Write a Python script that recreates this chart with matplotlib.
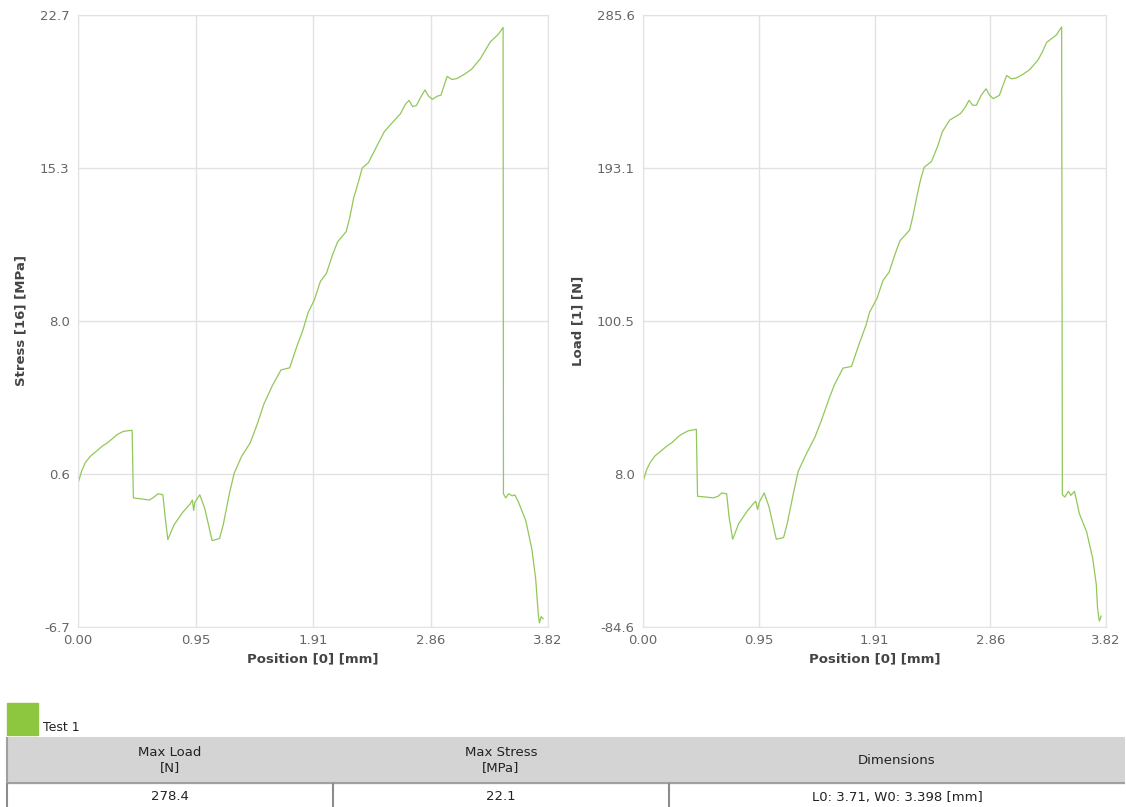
import matplotlib.pyplot as plt

# stress vs position
stress_pos = [0.00, 0.03, 0.06, 0.10, 0.15, 0.20, 0.24, 0.29, 0.32, 0.37, 0.44, 0.45,
              0.52, 0.58, 0.62, 0.65, 0.69, 0.71, 0.73, 0.78, 0.85, 0.91, 0.93, 0.94,
              0.95, 0.99, 1.03, 1.09, 1.15, 1.18, 1.23, 1.27, 1.33, 1.40, 1.46, 1.51,
              1.58, 1.65, 1.72, 1.78, 1.83, 1.87, 1.92, 1.97, 2.02, 2.07, 2.11, 2.18,
              2.21, 2.24, 2.28, 2.31, 2.36, 2.42, 2.49, 2.55, 2.62, 2.66, 2.69, 2.72,
              2.75, 2.79, 2.82, 2.85, 2.88, 2.92, 2.95, 3.00, 3.04, 3.08, 3.14, 3.20,
              3.27, 3.31, 3.35, 3.42, 3.455, 3.458, 3.476, 3.50, 3.53, 3.55, 3.58, 3.64,
              3.69, 3.72, 3.74, 3.75, 3.765, 3.78]
stress_val = [0.2, 0.8, 1.2, 1.5, 1.75, 2.0, 2.15, 2.4, 2.55, 2.7, 2.75, -0.5,
              -0.55, -0.6, -0.45, -0.3, -0.35, -1.5, -2.5, -1.8, -1.2, -0.8, -0.6, -1.1,
              -0.7, -0.35, -1.0, -2.55, -2.45, -1.8, -0.3, 0.7, 1.5, 2.15, 3.1, 4.0,
              4.9, 5.65, 5.75, 6.8, 7.6, 8.4, 9.0, 9.9, 10.3, 11.2, 11.8, 12.3,
              13.0, 13.9, 14.7, 15.35, 15.6, 16.3, 17.1, 17.5, 17.95, 18.4, 18.6, 18.3,
              18.35, 18.8, 19.1, 18.8, 18.65, 18.8, 18.85, 19.75, 19.6, 19.65, 19.85, 20.1,
              20.6, 21.0, 21.4, 21.8, 22.1, -0.3, -0.5, -0.3, -0.4, -0.35, -0.7, -1.6,
              -3.0, -4.4, -6.0, -6.5, -6.2, -6.3]

# load vs position
load_pos = [0.00, 0.03, 0.06, 0.10, 0.15, 0.20, 0.24, 0.29, 0.32, 0.37, 0.44, 0.45,
            0.52, 0.58, 0.62, 0.65, 0.69, 0.71, 0.74, 0.79, 0.86, 0.91, 0.93, 0.945,
            0.96, 1.00, 1.04, 1.10, 1.16, 1.19, 1.24, 1.28, 1.34, 1.42, 1.47, 1.54,
            1.58, 1.65, 1.72, 1.78, 1.84, 1.87, 1.93, 1.98, 2.03, 2.08, 2.12, 2.20,
            2.23, 2.26, 2.29, 2.32, 2.38, 2.43, 2.47, 2.53, 2.62, 2.66, 2.69, 2.72,
            2.75, 2.79, 2.83, 2.86, 2.89, 2.94, 3.00, 3.04, 3.08, 3.14, 3.19, 3.26,
            3.30, 3.33, 3.41, 3.454, 3.46, 3.48, 3.51, 3.53, 3.56, 3.60, 3.66, 3.71,
            3.74, 3.75, 3.765, 3.78]
load_val = [3.5, 10.5, 15, 19, 22, 25, 27, 30.5, 32, 34, 35, -5.5,
            -6.0, -6.5, -5.5, -3.5, -4.0, -18, -31.5, -22, -14.5, -10, -8.5, -13.5,
            -9, -3.5, -12, -31.5, -30.5, -22, -4, 9.5, 19, 30.5, 40, 54.5,
            62, 72, 73, 86, 98, 106, 114, 125, 130, 141, 149, 155.5,
            165, 176, 186, 193.5, 197, 206, 215, 222, 226, 230, 234, 231,
            231, 237, 241, 237, 235, 237, 249, 247, 247.5, 250, 252.5, 258.5,
            264, 269, 273.5, 278.4, -4.5, -6, -2.5, -5, -2.5, -16, -27, -43,
            -59, -73, -81, -78]

x_ticks = [0.0, 0.955, 1.91, 2.865, 3.82]
x_labels = ['0.00', '0.95', '1.91', '2.86', '3.82']
stress_ticks = [-6.7, 0.65, 8.0, 15.35, 22.7]
stress_labels = ['-6.7', '0.6', '8.0', '15.3', '22.7']
load_ticks = [-84.6, 7.95, 100.5, 193.05, 285.6]
load_labels = ['-84.6', '8.0', '100.5', '193.1', '285.6']

col_labels = ['Max Load\n[N]', 'Max Stress\n[MPa]', 'Dimensions']
row_values = ['278.4', '22.1', 'L0: 3.71, W0: 3.398 [mm]']
series_name = 'Test 1'

W, H = 1126, 807
line_col = '#92c75a'
grid_col = '#e2e2e2'

fig = plt.figure(figsize=(W / 100, H / 100), dpi=100)


def px_axes(x0, y0, x1, y1):
    return fig.add_axes([x0 / W, 1 - y1 / H, (x1 - x0) / W, (y1 - y0) / H])


def style(ax, yt, yl, ylab):
    ax.set_xlim(x_ticks[0], x_ticks[-1])
    ax.set_ylim(yt[0], yt[-1])
    ax.set_xticks(x_ticks, x_labels)
    ax.set_yticks(yt, yl)
    ax.tick_params(length=0, labelsize=9.5, labelcolor='#666666')
    ax.tick_params(axis='y', pad=6)
    ax.tick_params(axis='x', pad=5)
    ax.grid(color=grid_col, lw=1)
    for s in ax.spines.values():
        s.set_color(grid_col)
    ax.set_xlabel('Position [0] [mm]', fontsize=9.5, fontweight='bold', color='#444444', labelpad=4)
    ax.set_ylabel(ylab, fontsize=9.5, fontweight='bold', color='#444444', labelpad=9)


ax1 = px_axes(78, 15, 548, 627)
ax1.plot(stress_pos, stress_val, color=line_col, lw=0.9)
style(ax1, stress_ticks, stress_labels, 'Stress [16] [MPa]')

ax2 = px_axes(643, 15, 1106, 627)
ax2.plot(load_pos, load_val, color=line_col, lw=0.9)
style(ax2, load_ticks, load_labels, 'Load [1] [N]')

# legend swatch
fig.patches.append(plt.Rectangle((7 / W, 1 - 735 / H), 31 / W, 32 / H,
                                 transform=fig.transFigure, color='#8dc63f'))
fig.text(43 / W, 1 - 734 / H, series_name, fontsize=9, color='#222222', va='bottom')

# results table
tax = px_axes(7, 737, 1125, 811)
tax.axis('off')
hdr_h, row_h = 46, 28
# grey header band behind the column labels
tax.add_patch(plt.Rectangle((0, row_h / (hdr_h + row_h)), 1, hdr_h / (hdr_h + row_h),
                            transform=tax.transAxes, color='#d4d4d4', zorder=0))
tbl = tax.table(cellText=[row_values], colLabels=col_labels, cellLoc='center',
                colWidths=[326, 336, 456], bbox=[0, 0, 1, 1])
tbl.auto_set_font_size(False)
for (r, c), cell in tbl.get_celld().items():
    cell.get_text().set_fontsize(9.5)
    cell.get_text().set_color('#222222')
    cell.set_linewidth(1.5)
    if r == 0:
        cell.set_height(hdr_h)
        cell.set_facecolor('none')
        cell.set_edgecolor('#a0a0a0')
        cell.visible_edges = 'LB' if c == 0 else 'B'
    else:
        cell.set_height(row_h)
        cell.set_facecolor('none')
        cell.set_edgecolor('#8c8c8c')
        cell.visible_edges = 'L'

fig.savefig('out.png', dpi=100)
